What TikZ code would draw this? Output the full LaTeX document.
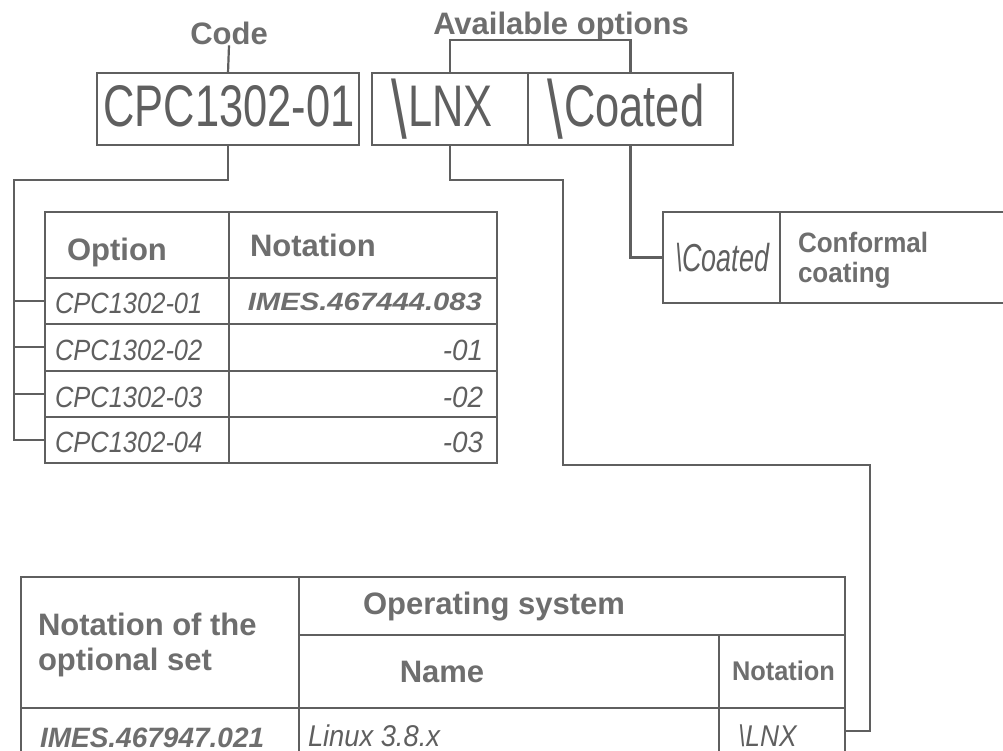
\documentclass[tikz,border=0pt]{standalone}
\usepackage{fontspec}
\setmainfont{Liberation Sans}
\usepackage{graphicx}
\definecolor{lncol}{RGB}{95,95,95}
\definecolor{hdcol}{RGB}{110,110,110}
\definecolor{thcol}{RGB}{95,95,95}
\newcommand{\hdf}{\bfseries\fontsize{31}{36}\selectfont}
\newcommand{\bigcond}[1]{\scalebox{0.74}[1]{\fontsize{58.7}{60}\selectfont #1}}
\newcommand{\tallbs}{\raisebox{-12pt}{\scalebox{1.3}[1.4]{\textbackslash}}\kern2pt}
\newcommand{\itcond}[3]{\scalebox{#1}[1]{\itshape\fontsize{#2}{#2}\selectfont #3}}
\begin{document}
\begin{tikzpicture}[x=1pt,y=-1pt,
  ln/.style={draw=lncol, line width=2.2pt},
  cellbox/.style={draw=lncol, line width=2.2pt, inner sep=0pt, outer sep=0pt, rectangle},
  hd/.style={font=\hdf, text=hdcol, inner sep=0pt, outer sep=0pt},
  tx/.style={text=thcol, inner sep=0pt, outer sep=0pt},
  bt/.style={text=hdcol, inner sep=0pt, outer sep=0pt}]
\useasboundingbox (0,0) rectangle (1003,751);
\fill[white] (0,0) rectangle (1003,751);

% ---- labels on top
\node[hd, anchor=base] (codelbl) at (229,45) {Code};
\node[hd, anchor=base] (avail) at (561,35) {Available options};

% ---- code boxes
\node[cellbox, minimum width=262pt, minimum height=72pt, anchor=north west] (code) at (97,73) {};
\node[cellbox, minimum width=156pt, minimum height=72pt, anchor=north west] (lnx) at (372,73) {};
\node[cellbox, minimum width=205pt, minimum height=72pt, anchor=north west] (coat) at (528,73) {};
\node[tx, anchor=base] (codetxt) at (229,127) {\bigcond{CPC1302-01}};
\node[tx, anchor=base west] (lnxtxt) at (391,127) {\bigcond{\tallbs LNX}};
\node[tx, anchor=base west] (coattxt) at (547,127) {\bigcond{\tallbs Coated}};

% ---- connectors from labels
\draw[ln] (codelbl.south) -- (code.north);
\coordinate (br) at (561,40);
\draw[ln] (lnx.north) |- (br) -| (coat.north);

% ---- option table
\draw[ln] (45,212) rectangle (497,463);
\draw[ln] (45,278) -- (497,278) (45,324) -- (497,324) (45,371) -- (497,371) (45,417) -- (497,417);
\draw[ln] (229,212) -- (229,463);
\node[hd, anchor=base west] (opt) at (67,260) {Option};
\node[hd, anchor=base west] (nota) at (250,257) {Notation};
\coordinate (r1) at (45,301);
\coordinate (r2) at (45,347);
\coordinate (r3) at (45,394);
\coordinate (r4) at (45,440);
\node[tx, anchor=base west] (o1) at (55,313) {\itcond{0.87}{29.3}{CPC1302-01}};
\node[tx, anchor=base west] (o2) at (55,360) {\itcond{0.87}{29.3}{CPC1302-02}};
\node[tx, anchor=base west] (o3) at (55,407) {\itcond{0.87}{29.3}{CPC1302-03}};
\node[tx, anchor=base west] (o4) at (55,452) {\itcond{0.87}{29.3}{CPC1302-04}};
\node[bt, anchor=base east] (n1) at (482,310) {\scalebox{1.17}[1]{\bfseries\itshape\fontsize{25}{25}\selectfont IMES.467444.083}};
\node[tx, anchor=base east] (n2) at (483,360) {\itcond{0.95}{29.3}{-01}};
\node[tx, anchor=base east] (n3) at (483,407) {\itcond{0.95}{29.3}{-02}};
\node[tx, anchor=base east] (n4) at (483,452) {\itcond{0.95}{29.3}{-03}};

% ---- code -> options connector
\coordinate (lb) at (14,180);
\draw[ln] (code.south) |- (lb) |- (r4);
\draw[ln] (r1 -| lb) -- (r1);
\draw[ln] (r2 -| lb) -- (r2);
\draw[ln] (r3 -| lb) -- (r3);

% ---- coated box
\node[cellbox, minimum width=117pt, minimum height=91pt, anchor=north west] (cb) at (663,212) {};
\coordinate (cbr1) at (1004,212);
\coordinate (cbr2) at (1004,303);
\draw[ln] (cb.north east) -- (cbr1);
\draw[ln] (cb.south east) -- (cbr2);
\node[tx, anchor=base west] (cbtxt) at (675,272) {\itcond{0.69}{39}{\textbackslash Coated}};
\node[bt, anchor=base west] (conf1) at (798,253) {\scalebox{0.93}[1]{\bfseries\fontsize{28}{28}\selectfont Conformal}};
\node[bt, anchor=base west] (conf2) at (798,282) {\scalebox{0.93}[1]{\bfseries\fontsize{28}{28}\selectfont coating}};
\draw[ln] (coat.south) |- (cb.west);

% ---- bottom table
\draw[ln] (21,760) -- (21,577) -- (845,577) -- (845,760);
\draw[ln] (299,577) -- (299,760);
\draw[ln] (299,635) -- (845,635);
\draw[ln] (21,708) -- (845,708);
\draw[ln] (719,635) -- (719,760);
\node[hd, anchor=base west] (ns1) at (38,635) {Notation of the};
\node[hd, anchor=base west] (ns2) at (38,670) {optional set};
\node[hd, anchor=base] (os) at (494,614) {Operating system};
\node[hd, anchor=base] (nm) at (442,682) {Name};
\node[bt, anchor=base west] (nt) at (732,680) {\scalebox{0.94}[1]{\bfseries\fontsize{27}{27}\selectfont Notation}};
\node[bt, anchor=base west] (imes) at (40,747) {\bfseries\itshape\fontsize{28}{28}\selectfont IMES.467947.021};
\node[tx, anchor=base west] (linux) at (308,746) {\itcond{0.91}{30}{Linux 3.8.x}};
\node[tx, anchor=base west] (lnx2) at (738,746) {\itcond{0.88}{30}{\textbackslash LNX}};
\coordinate (t2) at (845,731);

% ---- LNX connector
\coordinate (k1) at (563,180);
\coordinate (k2) at (870,465);
\draw[ln] (lnx.south) |- (k1) |- (k2) |- (t2);
\end{tikzpicture}
\end{document}
